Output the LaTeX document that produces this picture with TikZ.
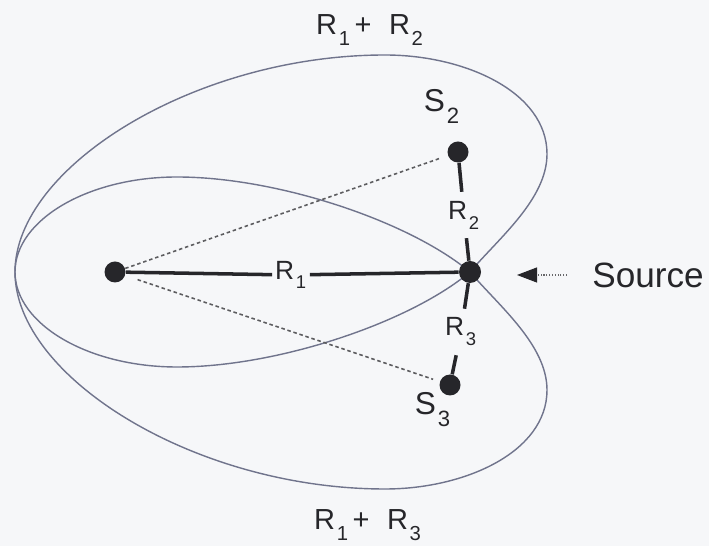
\documentclass[tikz,border=0pt]{standalone}
\usepackage{fontspec}
\setmainfont{Liberation Sans}
\usetikzlibrary{arrows.meta}
\definecolor{paper}{RGB}{246,247,249}
\definecolor{curvegray}{RGB}{112,116,140}
\definecolor{inkgray}{RGB}{38,38,42}
\newcommand{\lowsub}[1]{\hspace{1pt}\raisebox{-0.22em}{\textsubscript{#1}}}

\begin{document}
\begin{tikzpicture}[x={(0.02cm,0)}, y={(0,0.02cm)},
    dot/.style={circle, fill=inkgray, inner sep=0pt, minimum size=0.42cm},
    arm/.style={draw=inkgray, line width=2pt},
    ray/.style={draw=inkgray!75, line width=0.9pt, dash pattern=on 2pt off 1.6pt},
    lobe/.style={draw=curvegray, line width=0.8pt},
    pointer/.style={draw=inkgray!70, line width=0.6pt, densely dotted, -{Triangle[length=0.4cm, width=0.3cm, color=inkgray]}},
    rlabel/.style={text=inkgray, font=\fontsize{15}{18}\selectfont, inner xsep=1.5pt, inner ysep=5pt},
    slabel/.style={text=inkgray, font=\fontsize{18}{21}\selectfont, inner sep=1pt},
    sumlabel/.style={text=inkgray, font=\fontsize{16.5}{19}\selectfont, inner sep=1pt}]
        % frame
        \useasboundingbox[fill=paper](0,-274)rectangle(709,272);
        % lobes
        \foreach \sy in {1,-1}
        {
            \begin{scope}[yscale=\sy]
                \path[lobe](470,0).. controls (499,34) and (547,73) ..(547,118)
                    .. controls (547,180) and (465,217) ..(385,217)
                    .. controls (195,217) and (15,105) ..(15,0)
                    .. controls (15,-52) and (88,-95) ..(177,-95)
                    .. controls (277,-95) and (409,-51) ..(470,0);
            \end{scope}
        }
        % points
        \node[dot](left)at(115,0){};
        \node[dot, minimum size=0.44cm](src)at(470,0){};
        \node[dot](s2)at(458,120){};
        \node[dot](s3)at(450,-113){};
        % labels
        \node[slabel](s2lbl)at(442,166){S\lowsub{2}};
        \node[slabel](s3lbl)at(433,-138){S\lowsub{3}};
        \node[rlabel](r1)at(291,-3){R\lowsub{1}};
        \node[rlabel](r2)at(464,57){R\lowsub{2}};
        \node[rlabel](r3)at(461,-60){R\lowsub{3}};
        \node[sumlabel](sum2)at(370,242){R\lowsub{1}\hspace{2pt}+\hspace{10pt}R\lowsub{2}};
        \node[sumlabel](sum3)at(368,-253){R\lowsub{1}\hspace{2pt}+\hspace{10pt}R\lowsub{3}};
        \node[text=inkgray, font=\fontsize{20}{24}\selectfont, anchor=west, inner sep=0pt](srclbl)at(592,-3){Source};
        \coordinate(tip)at(517,-3);
        % straight paths
        \path[ray, shorten >=0.16cm](left)to(s2);
        \path[ray, shorten <=0.26cm, shorten >=0.14cm](left)to(s3);
        % arms
        \path[arm](left)to(r1);
        \path[arm](r1)to(src);
        \path[arm](s2)to(r2);
        \path[arm](r2)to(src);
        \path[arm](src)to(r3);
        \path[arm](r3)to(s3);
        % arrow
        \path[pointer, shorten <=0.5cm](srclbl)to(tip);
    \end{tikzpicture}
\end{document}
